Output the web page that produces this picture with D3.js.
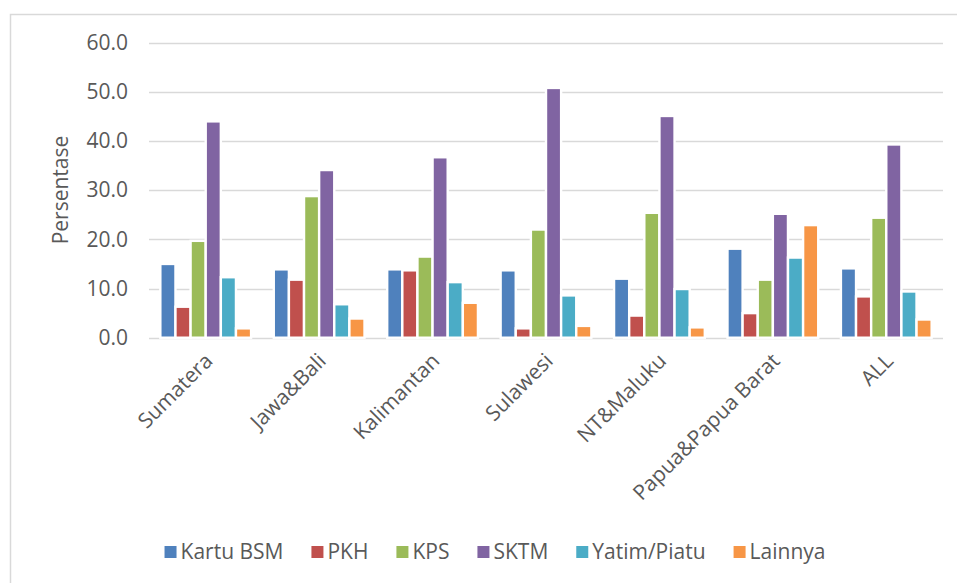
<!DOCTYPE html>
<html>
<head>
<meta charset="utf-8">
<script src="https://cdn.jsdelivr.net/npm/d3@7"></script>
<style>
  body { margin: 0; background: #fff; }
  text { font-family: "Open Sans", sans-serif; fill: #595959; }
</style>
</head>
<body>
<script>
// regions on the x axis
const regions = ["Sumatera", "Jawa&Bali", "Kalimantan", "Sulawesi", "NT&Maluku", "Papua&Papua Barat", "ALL"];

// series names and their values per region (percent)
const seriesNames = ["Kartu BSM", "PKH", "KPS", "SKTM", "Yatim/Piatu", "Lainnya"];
const kartuBSM  = [15.0, 13.9, 13.9, 13.7, 12.0, 18.1, 14.1];
const pkh       = [6.3, 11.8, 13.7, 1.9, 4.5, 5.0, 8.4];
const kps       = [19.7, 28.8, 16.5, 22.0, 25.4, 11.8, 24.4];
const sktm      = [44.0, 34.1, 36.7, 50.8, 45.1, 25.2, 39.3];
const yatim     = [12.3, 6.8, 11.3, 8.6, 9.9, 16.3, 9.4];
const lainnya   = [1.9, 3.9, 7.1, 2.4, 2.1, 22.9, 3.7];

const yTicks = [0, 10, 20, 30, 40, 50, 60];

const colors = ["#4F81BD", "#C0504D", "#9BBB59", "#8064A2", "#4BACC6", "#F79646"];
const seriesValues = [kartuBSM, pkh, kps, sktm, yatim, lainnya];

const width = 957, height = 583;
const plot = {left: 149, right: 943, top: 42.7, bottom: 337.7};
const fontSize = 21;

const svg = d3.select("body").append("svg")
  .attr("width", width)
  .attr("height", height);

// chart frame (only top and left edges visible in the crop)
svg.append("path")
  .attr("d", `M10.5,${height} V14.5 H${width}`)
  .attr("fill", "none")
  .attr("stroke", "#d9d9d9")
  .attr("stroke-width", 1.5);

const y = d3.scaleLinear().domain([0, 60]).range([plot.bottom, plot.top]);

const x0 = d3.scaleBand()
  .domain(regions)
  .range([plot.left, plot.right]);

// excel style clustered bars: gap width 150%
const x1 = d3.scaleBand()
  .domain(seriesNames)
  .range([0, x0.bandwidth()])
  .paddingInner(0)
  .paddingOuter(0.75);

// gridlines
svg.append("g")
  .selectAll("line")
  .data(yTicks)
  .join("line")
  .attr("x1", plot.left)
  .attr("x2", plot.right)
  .attr("y1", d => Math.round(y(d)) + 0.5)
  .attr("y2", d => Math.round(y(d)) + 0.5)
  .attr("stroke", "#d9d9d9")
  .attr("stroke-width", 1.3);

// y axis labels
const yAxis = svg.append("g")
  .attr("transform", `translate(${plot.left},0)`)
  .call(d3.axisLeft(y).tickValues(yTicks).tickSize(0).tickPadding(21).tickFormat(d3.format(".1f")));
yAxis.select(".domain").remove();
yAxis.selectAll("text")
  .attr("font-size", fontSize)
  .attr("font-family", "'Open Sans', sans-serif")
  .attr("fill", "#595959");

svg.append("text")
  .text("Persentase")
  .attr("transform", "translate(68,190) rotate(-90)")
  .attr("text-anchor", "middle")
  .attr("font-size", fontSize);

// bars
const rows = [];
regions.forEach((r, i) => {
  seriesNames.forEach((s, j) => {
    rows.push({region: r, series: s, value: seriesValues[j][i], color: colors[j]});
  });
});

svg.append("g")
  .selectAll("rect")
  .data(rows)
  .join("rect")
  .attr("x", d => x0(d.region) + x1(d.series))
  .attr("y", d => y(d.value))
  .attr("width", x1.bandwidth())
  .attr("height", d => y(0) - y(d.value))
  .attr("fill", d => d.color)
  .attr("stroke", "#fff")
  .attr("stroke-width", 2.4);

// rotated category labels
svg.append("g")
  .selectAll("text")
  .data(regions)
  .join("text")
  .text(d => d)
  .attr("text-anchor", "end")
  .attr("font-size", fontSize)
  .attr("dy", "0.35em")
  .attr("transform", d => `translate(${x0(d) + x0.bandwidth() / 2 + 3},357) rotate(-45)`);

// legend
const legend = svg.append("g");
const items = legend.selectAll("g")
  .data(seriesNames)
  .join("g");
items.append("rect")
  .attr("width", 12)
  .attr("height", 12)
  .attr("y", -6)
  .attr("fill", (d, i) => colors[i]);
items.append("text")
  .text(d => d)
  .attr("x", 16)
  .attr("dy", "0.35em")
  .attr("font-size", fontSize);

let cursor = 0;
const gap = 28;
items.each(function() {
  const w = this.getBBox().width;
  d3.select(this).attr("transform", `translate(${cursor},552)`);
  cursor += w + gap;
});
const legendWidth = cursor - gap;
legend.attr("transform", `translate(${495 - legendWidth / 2},0)`);
</script>
</body>
</html>
